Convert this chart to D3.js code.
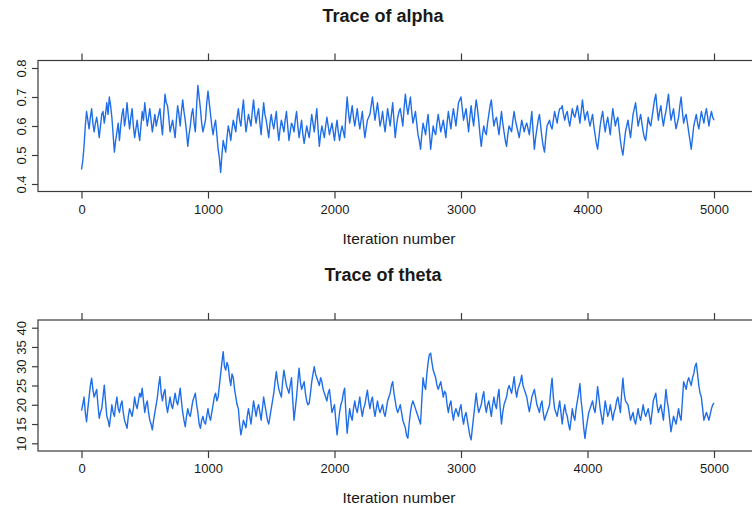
<!DOCTYPE html>
<html>
<head>
<meta charset="utf-8">
<script src="https://cdn.jsdelivr.net/npm/d3@7"></script>
<style>
  body { margin: 0; background: #fff; }
  svg { display: block; font-family: "Liberation Sans", Arial, sans-serif; }
</style>
</head>
<body>
<svg id="chart" width="752" height="508"></svg>
<script>
const step = 10;
const alphaTrace = [
  0.45, 0.48, 0.53, 0.60, 0.65, 0.62, 0.59, 0.63, 0.66, 0.61, 0.58, 0.61, 0.63, 0.60, 0.56, 0.60, 0.64, 0.65, 0.61, 0.64,
  0.68, 0.64, 0.70, 0.67, 0.63, 0.57, 0.51, 0.55, 0.58, 0.61, 0.55, 0.60, 0.64, 0.66, 0.60, 0.63, 0.68, 0.63, 0.59, 0.63,
  0.66, 0.60, 0.56, 0.59, 0.62, 0.58, 0.55, 0.60, 0.65, 0.62, 0.68, 0.64, 0.60, 0.63, 0.66, 0.62, 0.58, 0.61, 0.64, 0.60,
  0.62, 0.64, 0.66, 0.61, 0.57, 0.64, 0.71, 0.68, 0.67, 0.63, 0.58, 0.60, 0.62, 0.59, 0.56, 0.62, 0.67, 0.64, 0.60, 0.65,
  0.69, 0.65, 0.62, 0.58, 0.53, 0.57, 0.60, 0.64, 0.66, 0.61, 0.58, 0.67, 0.74, 0.70, 0.66, 0.61, 0.58, 0.60, 0.62, 0.68,
  0.72, 0.68, 0.64, 0.60, 0.57, 0.60, 0.62, 0.57, 0.52, 0.49, 0.44, 0.50, 0.55, 0.53, 0.51, 0.56, 0.60, 0.58, 0.55, 0.59,
  0.62, 0.60, 0.58, 0.63, 0.66, 0.62, 0.60, 0.65, 0.69, 0.63, 0.58, 0.61, 0.64, 0.62, 0.60, 0.65, 0.69, 0.64, 0.61, 0.64,
  0.66, 0.61, 0.57, 0.63, 0.68, 0.64, 0.62, 0.59, 0.56, 0.61, 0.64, 0.61, 0.59, 0.62, 0.65, 0.59, 0.55, 0.59, 0.62, 0.60,
  0.58, 0.62, 0.65, 0.60, 0.55, 0.58, 0.61, 0.60, 0.58, 0.62, 0.65, 0.60, 0.56, 0.59, 0.62, 0.57, 0.54, 0.57, 0.60, 0.58,
  0.56, 0.60, 0.64, 0.61, 0.58, 0.62, 0.66, 0.59, 0.53, 0.57, 0.60, 0.58, 0.56, 0.60, 0.63, 0.60, 0.57, 0.59, 0.61, 0.58,
  0.55, 0.59, 0.62, 0.58, 0.55, 0.58, 0.60, 0.58, 0.56, 0.64, 0.70, 0.65, 0.61, 0.64, 0.67, 0.63, 0.60, 0.63, 0.66, 0.62,
  0.59, 0.62, 0.65, 0.60, 0.56, 0.59, 0.62, 0.63, 0.64, 0.67, 0.70, 0.66, 0.62, 0.65, 0.68, 0.64, 0.60, 0.62, 0.65, 0.61,
  0.58, 0.62, 0.66, 0.63, 0.60, 0.64, 0.68, 0.62, 0.56, 0.60, 0.63, 0.65, 0.66, 0.63, 0.60, 0.66, 0.71, 0.67, 0.64, 0.67,
  0.70, 0.65, 0.61, 0.63, 0.65, 0.61, 0.57, 0.55, 0.52, 0.57, 0.61, 0.59, 0.57, 0.61, 0.64, 0.58, 0.52, 0.56, 0.60, 0.58,
  0.57, 0.61, 0.64, 0.61, 0.58, 0.60, 0.62, 0.59, 0.56, 0.61, 0.65, 0.62, 0.59, 0.63, 0.66, 0.63, 0.60, 0.64, 0.68, 0.69,
  0.70, 0.66, 0.62, 0.64, 0.66, 0.62, 0.58, 0.63, 0.67, 0.63, 0.60, 0.65, 0.69, 0.66, 0.62, 0.57, 0.53, 0.57, 0.60, 0.58,
  0.57, 0.61, 0.64, 0.67, 0.69, 0.64, 0.60, 0.62, 0.63, 0.60, 0.57, 0.61, 0.65, 0.61, 0.58, 0.55, 0.53, 0.57, 0.60, 0.59,
  0.58, 0.62, 0.65, 0.62, 0.60, 0.58, 0.56, 0.59, 0.62, 0.60, 0.58, 0.60, 0.61, 0.59, 0.57, 0.61, 0.65, 0.58, 0.52, 0.56,
  0.59, 0.62, 0.64, 0.60, 0.56, 0.53, 0.51, 0.56, 0.60, 0.61, 0.62, 0.60, 0.59, 0.62, 0.65, 0.63, 0.61, 0.64, 0.66, 0.66,
  0.67, 0.64, 0.62, 0.64, 0.65, 0.62, 0.60, 0.63, 0.66, 0.64, 0.63, 0.65, 0.67, 0.64, 0.61, 0.65, 0.69, 0.65, 0.62, 0.64,
  0.65, 0.62, 0.60, 0.62, 0.64, 0.60, 0.57, 0.54, 0.52, 0.56, 0.60, 0.63, 0.65, 0.61, 0.58, 0.61, 0.63, 0.60, 0.57, 0.62,
  0.66, 0.63, 0.60, 0.62, 0.63, 0.59, 0.55, 0.52, 0.50, 0.54, 0.58, 0.60, 0.62, 0.59, 0.56, 0.60, 0.64, 0.66, 0.68, 0.64,
  0.60, 0.62, 0.64, 0.61, 0.58, 0.56, 0.55, 0.59, 0.63, 0.61, 0.60, 0.63, 0.66, 0.69, 0.71, 0.66, 0.62, 0.65, 0.67, 0.63,
  0.60, 0.63, 0.65, 0.68, 0.71, 0.66, 0.62, 0.64, 0.66, 0.62, 0.59, 0.61, 0.63, 0.67, 0.70, 0.65, 0.61, 0.63, 0.64, 0.61,
  0.58, 0.55, 0.52, 0.56, 0.60, 0.62, 0.64, 0.61, 0.59, 0.62, 0.65, 0.63, 0.61, 0.64, 0.66, 0.63, 0.60, 0.63, 0.65, 0.63,
  0.62
];
const thetaTrace = [
  18.5, 20, 22, 18, 15.6, 19, 22, 25, 26.9, 24, 22, 23, 24, 20, 16.5, 18, 19, 22, 25.1, 21,
  17, 16, 14.3, 17, 20, 18, 17, 20, 22, 19, 18, 20, 21, 18, 16, 15, 13.9, 17, 19, 18,
  17, 19, 22, 20, 19, 21, 23, 22, 24.3, 21, 18, 20, 21, 18, 16, 15, 13.5, 16, 18, 20,
  22, 25, 27.3, 23, 21, 23, 24, 20, 18, 20, 22, 20, 19, 21, 23, 21, 20, 22, 24.3, 21,
  18, 16, 14.3, 17, 19, 17.5, 17, 19, 21, 22, 23, 20, 18, 15, 13.9, 16, 17, 15.5, 15, 17,
  19, 17, 16, 18, 20, 22, 23, 21, 22, 25, 28, 31, 33.8, 30, 29, 31, 30, 27, 25, 28,
  27, 24, 22, 20, 19, 15, 12.2, 14, 16, 15, 14, 17, 19, 17, 15, 18, 21, 19, 17, 19,
  20, 18, 16, 19, 22, 20, 18, 16, 15, 17, 19, 21, 23, 26, 28.6, 26, 24, 23, 22, 26,
  29, 27, 25, 24, 23, 25, 27, 21, 16, 19, 22, 26, 29.5, 26, 24, 25, 26, 23, 21, 20,
  20.4, 23, 26, 28, 29.9, 28, 27, 26, 25, 27, 26, 24, 23, 22, 21, 23, 24, 21, 18, 19,
  20, 16, 12.2, 15, 18, 20, 21, 23, 24.3, 18, 12.6, 16, 19, 17, 16, 19, 21, 19, 18, 20,
  22, 19, 17, 19, 20, 22, 23.8, 21, 19, 21, 22, 19, 17, 19, 21, 19, 18, 19, 20, 18,
  17, 19, 21, 22, 23, 25, 26, 23, 21, 19, 18, 19, 20, 18, 16, 15, 14, 12, 11.3, 15,
  18, 20, 21, 20, 19, 18, 17, 16, 15, 21, 27, 25, 24, 28, 31, 33, 33.4, 31, 29, 28,
  27, 25, 24, 25, 26, 24, 22, 23.5, 23, 20, 18, 20, 21, 18, 16, 18, 19, 18, 17, 19,
  20, 17, 15, 17, 18, 16, 14, 12, 10.9, 14, 17, 20, 23, 20, 18, 19, 20, 22, 23.4, 20,
  18, 20, 21, 19, 17, 20, 22, 20, 19, 22, 24, 19, 15, 18, 20, 21, 22, 24, 25, 24,
  23, 25, 27.3, 24, 22, 24, 25, 26, 27.7, 25, 24, 23, 22, 20, 18.2, 20, 22, 23, 24, 22,
  20, 19, 18, 20, 21, 18, 16, 17, 18, 19, 20, 24, 26.9, 22, 19, 18, 17, 19, 21, 18,
  15, 18, 20, 18, 17, 15, 13.5, 16, 19, 17, 16, 19, 21, 23, 25.5, 21, 18, 14, 11.3, 14,
  16, 18, 19, 20, 21, 19, 18, 21, 24.7, 22, 19, 17, 15, 18, 21, 19, 17, 18, 20, 18,
  16, 18, 19, 21, 22, 20, 18, 23, 26.9, 23, 21, 20.5, 20, 18, 16, 17, 18, 16, 15, 17,
  19, 17, 16, 18, 20, 18, 17, 18, 19, 17, 15, 18, 21, 22, 23, 20, 18, 19, 20, 18,
  16, 20, 24, 21, 19, 16, 13, 15, 17, 16, 15, 17, 19, 17, 16, 21, 26, 25, 24, 26,
  27, 26, 25, 27, 28, 30, 30.8, 28, 25, 23, 22, 19, 16, 17, 18, 17, 16, 17.5, 19, 20,
  20.5
];
const xTicks = [0, 1000, 2000, 3000, 4000, 5000];
const alphaTicks = [0.4, 0.5, 0.6, 0.7, 0.8];
const thetaTicks = [10, 15, 20, 25, 30, 35, 40];

const svg = d3.select('#chart');
const lineColor = '#1f6ee8';
const frameColor = '#3a3a3a';
const textColor = '#1a1a1a';

const x = d3.scaleLinear().domain([0, 5000]).range([81.5, 714]);
const boxLeft = 38, boxRight = 760;

function drawPanel(opts) {
  const y = d3.scaleLinear().domain(opts.yDomain).range(opts.yRange);
  const g = svg.append('g');

  g.append('text')
    .attr('x', 383).attr('y', opts.top - 39)
    .attr('text-anchor', 'middle')
    .attr('font-size', 18).attr('font-weight', 'bold')
    .attr('fill', textColor)
    .text(opts.title);

  // trace
  const line = d3.line()
    .x((d, i) => x(i * step))
    .y(d => y(d));
  g.append('path')
    .datum(opts.values)
    .attr('d', line)
    .attr('fill', 'none')
    .attr('stroke', lineColor)
    .attr('stroke-width', 1.4)
    .attr('stroke-linejoin', 'round');

  // frame
  g.append('rect')
    .attr('x', boxLeft).attr('y', opts.top)
    .attr('width', boxRight - boxLeft).attr('height', opts.bottom - opts.top)
    .attr('fill', 'none').attr('stroke', frameColor).attr('stroke-width', 1.2);

  // bottom axis
  const bottomAxis = d3.axisBottom(x).tickValues(xTicks).tickSize(7).tickPadding(6).tickFormat(d3.format('d'));
  const ab = g.append('g').attr('transform', `translate(0,${opts.bottom})`).call(bottomAxis);
  ab.select('.domain').remove();
  ab.selectAll('line').attr('stroke', frameColor).attr('stroke-width', 1.2);
  ab.selectAll('text').attr('font-size', 13).attr('fill', textColor).attr('font-family', 'Liberation Sans, Arial, sans-serif');

  // top ticks (no labels)
  const topAxis = d3.axisTop(x).tickValues(xTicks).tickSize(7).tickFormat('');
  const at = g.append('g').attr('transform', `translate(0,${opts.top})`).call(topAxis);
  at.select('.domain').remove();
  at.selectAll('line').attr('stroke', frameColor).attr('stroke-width', 1.2);

  // left axis with rotated labels
  const leftAxis = d3.axisLeft(y).tickValues(opts.ticks).tickSize(6).tickFormat(opts.fmt);
  const al = g.append('g').attr('transform', `translate(${boxLeft},0)`).call(leftAxis);
  al.select('.domain').remove();
  al.selectAll('line').attr('stroke', frameColor).attr('stroke-width', 1.2);
  al.selectAll('text')
    .attr('font-size', 13).attr('fill', textColor)
    .attr('font-family', 'Liberation Sans, Arial, sans-serif')
    .attr('text-anchor', 'middle')
    .attr('dy', null)
    .attr('x', null)
    .attr('transform', 'translate(-17,0) rotate(-90)')
    .attr('dominant-baseline', 'central');

  g.append('text')
    .attr('x', 399).attr('y', opts.bottom + 52)
    .attr('text-anchor', 'middle')
    .attr('font-size', 15.5)
    .attr('fill', textColor)
    .text('Iteration number');
}

drawPanel({
  title: 'Trace of alpha',
  values: alphaTrace,
  yDomain: [0.4, 0.8], yRange: [184, 68],
  top: 60.5, bottom: 191.5,
  ticks: alphaTicks, fmt: d3.format('.1f')
});

drawPanel({
  title: 'Trace of theta',
  values: thetaTrace,
  yDomain: [10, 40], yRange: [443.3, 327.7],
  top: 320, bottom: 451,
  ticks: thetaTicks, fmt: d3.format('d')
});
</script>
</body>
</html>
